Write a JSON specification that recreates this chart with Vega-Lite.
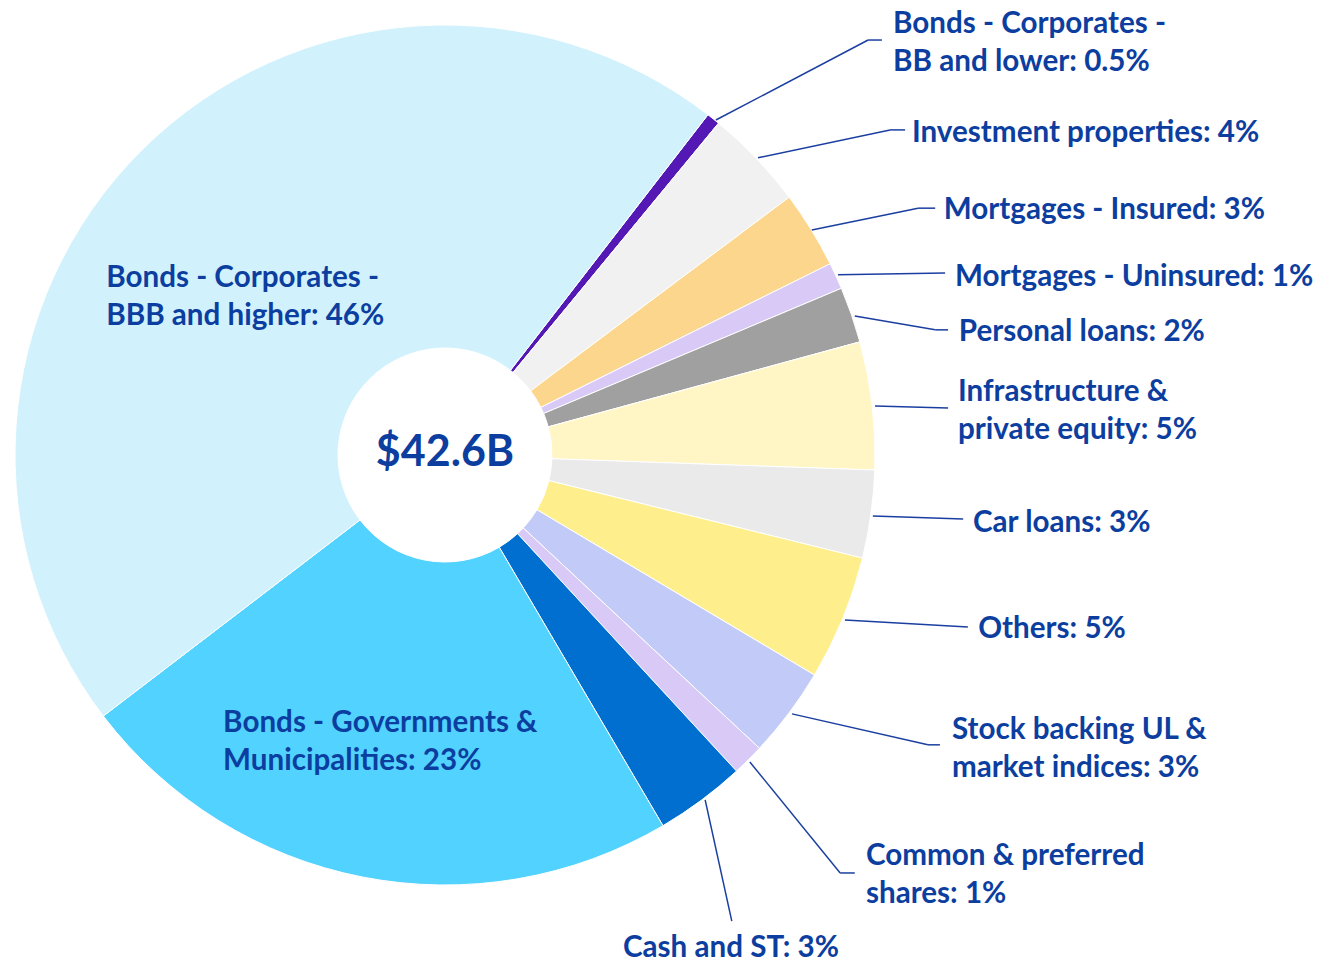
{
  "$schema": "https://vega.github.io/schema/vega-lite/v6.json",
  "width": 1319,
  "height": 964,
  "padding": 0,
  "autosize": {"type": "none"},
  "background": "white",
  "config": {"view": {"stroke": null}},
  "datasets": {
    "slices": [
      {"o": 1, "name": "Bonds - Corporates - BB and lower", "value": 0.5},
      {"o": 2, "name": "Investment properties", "value": 3.8},
      {"o": 3, "name": "Mortgages - Insured", "value": 2.9},
      {"o": 4, "name": "Mortgages - Uninsured", "value": 1.0},
      {"o": 5, "name": "Personal loans", "value": 2.1},
      {"o": 6, "name": "Infrastructure & private equity", "value": 4.8},
      {"o": 7, "name": "Car loans", "value": 3.3},
      {"o": 8, "name": "Others", "value": 4.7},
      {"o": 9, "name": "Stock backing UL & market indices", "value": 3.4},
      {"o": 10, "name": "Common & preferred shares", "value": 1.2},
      {"o": 11, "name": "Cash and ST", "value": 3.4},
      {"o": 12, "name": "Bonds - Governments & Municipalities", "value": 23.1},
      {"o": 13, "name": "Bonds - Corporates - BBB and higher", "value": 45.9}
    ],
    "lines": [
      {"x": 0.630, "y": 0.779, "x2": 0.984, "y2": 0.965},
      {"x": 0.984, "y": 0.965, "x2": 1.016, "y2": 0.965},
      {"x": 0.728, "y": 0.691, "x2": 1.035, "y2": 0.756},
      {"x": 1.035, "y": 0.756, "x2": 1.070, "y2": 0.756},
      {"x": 0.853, "y": 0.523, "x2": 1.100, "y2": 0.574},
      {"x": 1.100, "y": 0.574, "x2": 1.140, "y2": 0.574},
      {"x": 0.914, "y": 0.419, "x2": 1.163, "y2": 0.423},
      {"x": 0.953, "y": 0.323, "x2": 1.140, "y2": 0.291},
      {"x": 1.140, "y": 0.291, "x2": 1.170, "y2": 0.291},
      {"x": 1.000, "y": 0.114, "x2": 1.170, "y2": 0.109},
      {"x": 0.995, "y": -0.142, "x2": 1.205, "y2": -0.149},
      {"x": 0.930, "y": -0.384, "x2": 1.216, "y2": -0.400},
      {"x": 0.807, "y": -0.602, "x2": 1.123, "y2": -0.674},
      {"x": 1.123, "y": -0.674, "x2": 1.151, "y2": -0.674},
      {"x": 0.709, "y": -0.714, "x2": 0.919, "y2": -0.972},
      {"x": 0.919, "y": -0.972, "x2": 0.953, "y2": -0.972},
      {"x": 0.605, "y": -0.802, "x2": 0.667, "y2": -1.084}
    ],
    "labels": [
      {"x": 1.042, "y": 1.002, "t": "Bonds - Corporates -\nBB and lower: 0.5%"},
      {"x": 1.086, "y": 0.748, "t": "Investment properties: 4%"},
      {"x": 1.160, "y": 0.569, "t": "Mortgages - Insured: 3%"},
      {"x": 1.186, "y": 0.414, "t": "Mortgages - Uninsured: 1%"},
      {"x": 1.195, "y": 0.286, "t": "Personal loans: 2%"},
      {"x": 1.193, "y": 0.146, "t": "Infrastructure &\nprivate equity: 5%"},
      {"x": 1.228, "y": -0.158, "t": "Car loans: 3%"},
      {"x": 1.240, "y": -0.405, "t": "Others: 5%"},
      {"x": 1.179, "y": -0.640, "t": "Stock backing UL &\nmarket indices: 3%"},
      {"x": 0.979, "y": -0.933, "t": "Common & preferred\nshares: 1%"},
      {"x": -0.788, "y": 0.411, "t": "Bonds - Corporates -\nBBB and higher: 46%"},
      {"x": -0.516, "y": -0.624, "t": "Bonds - Governments &\nMunicipalities: 23%"}
    ],
    "bottom": [{"x": 0.665, "y": -1.147, "t": "Cash and ST: 3%"}],
    "center": [{"x": 0, "y": 0.005, "t": "$42.6B"}]
  },
  "layer": [
    {
      "data": {"name": "slices"},
      "mark": {"type": "arc", "outerRadius": 430, "innerRadius": 107, "stroke": "white", "strokeWidth": 1},
      "encoding": {
        "theta": {"field": "value", "type": "quantitative", "stack": true, "scale": {"range": [0.658, 6.941]}},
        "order": {"field": "o", "type": "quantitative", "sort": "ascending"},
        "color": {
          "field": "name", "type": "nominal", "legend": null,
          "scale": {
            "domain": ["Bonds - Corporates - BB and lower", "Investment properties", "Mortgages - Insured", "Mortgages - Uninsured", "Personal loans", "Infrastructure & private equity", "Car loans", "Others", "Stock backing UL & market indices", "Common & preferred shares", "Cash and ST", "Bonds - Governments & Municipalities", "Bonds - Corporates - BBB and higher"],
            "range": ["#5419B5", "#F1F1F1", "#FDD68D", "#D9C9F7", "#A0A0A0", "#FFF5C5", "#EAEAEA", "#FFEE8C", "#C2CBF8", "#D9C9F7", "#006FD0", "#52D2FF", "#D1F2FD"]
          }
        },
        "x": {"datum": 0, "type": "quantitative", "scale": {"domain": [-1.0349, 2.0326], "nice": false, "zero": false}, "axis": null},
        "y": {"datum": 0, "type": "quantitative", "scale": {"domain": [-1.1837, 1.0581], "nice": false, "zero": false}, "axis": null}
      }
    },
    {
      "data": {"name": "lines"},
      "mark": {"type": "rule", "color": "#1A3FA0", "strokeWidth": 1.5},
      "encoding": {
        "x": {"field": "x", "type": "quantitative", "scale": {"domain": [-1.0349, 2.0326], "nice": false, "zero": false}, "axis": null},
        "y": {"field": "y", "type": "quantitative", "scale": {"domain": [-1.1837, 1.0581], "nice": false, "zero": false}, "axis": null},
        "x2": {"field": "x2"},
        "y2": {"field": "y2"}
      }
    },
    {
      "data": {"name": "labels"},
      "mark": {"type": "text", "font": "Lato", "fontWeight": "bold", "fontSize": 29.6, "color": "#0C3EA0", "baseline": "middle", "align": "left", "lineBreak": "\n", "lineHeight": 38},
      "encoding": {
        "x": {"field": "x", "type": "quantitative", "scale": {"domain": [-1.0349, 2.0326], "nice": false, "zero": false}, "axis": null},
        "y": {"field": "y", "type": "quantitative", "scale": {"domain": [-1.1837, 1.0581], "nice": false, "zero": false}, "axis": null},
        "text": {"field": "t"}
      }
    },
    {
      "data": {"name": "bottom"},
      "mark": {"type": "text", "font": "Lato", "fontWeight": "bold", "fontSize": 29.6, "color": "#0C3EA0", "baseline": "middle", "align": "center"},
      "encoding": {
        "x": {"field": "x", "type": "quantitative", "scale": {"domain": [-1.0349, 2.0326], "nice": false, "zero": false}, "axis": null},
        "y": {"field": "y", "type": "quantitative", "scale": {"domain": [-1.1837, 1.0581], "nice": false, "zero": false}, "axis": null},
        "text": {"field": "t"}
      }
    },
    {
      "data": {"name": "center"},
      "mark": {"type": "text", "font": "Lato", "fontWeight": "bold", "fontSize": 43, "color": "#0C3EA0", "baseline": "middle", "align": "center"},
      "encoding": {
        "x": {"field": "x", "type": "quantitative", "scale": {"domain": [-1.0349, 2.0326], "nice": false, "zero": false}, "axis": null},
        "y": {"field": "y", "type": "quantitative", "scale": {"domain": [-1.1837, 1.0581], "nice": false, "zero": false}, "axis": null},
        "text": {"field": "t"}
      }
    }
  ]
}
